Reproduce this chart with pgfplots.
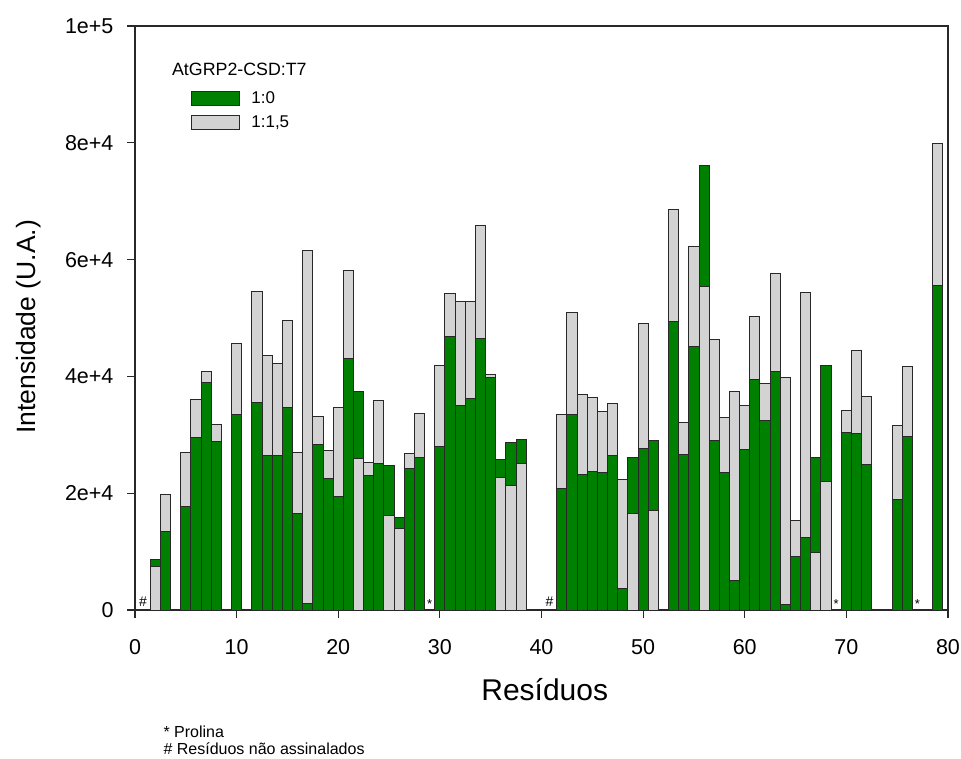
\documentclass[border=0pt]{standalone}
\usepackage{pgfplots}
\usepackage{pgfplotstable}
\pgfplotsset{compat=1.18}
\usepackage{fontspec}
\setmainfont{Liberation Sans}
\definecolor{bargreen}{RGB}{0,128,0}
\definecolor{bargray}{RGB}{211,211,211}
\definecolor{edge}{RGB}{40,40,40}

% residue, gray (1:1,5), green (1:0)
\pgfplotstableread{
x G V
2 7400 8700
3 19800 13400
5 27000 17700
6 36100 29600
7 40900 39000
8 31800 28900
10 45700 33400
12 54500 35600
13 43500 26400
14 42200 26400
15 49500 34600
16 27000 16600
17 61600 1100
18 33100 28300
19 27300 22500
20 34700 19500
21 58200 43000
22 25900 37500
23 25200 23000
24 35800 25100
25 16100 24800
26 13900 15900
27 26800 24300
28 33700 26100
30 41900 28000
31 54200 46900
32 52900 35000
33 52900 36200
34 65900 46500
35 40400 39800
36 22700 25700
37 21400 28700
38 25100 29200
42 33500 20800
43 51000 33400
44 36900 23200
45 36400 23800
46 34000 23500
47 35300 26400
48 22400 3700
49 16600 26100
50 49100 27700
51 17100 29100
53 68600 49400
54 32100 26700
55 62200 45100
56 55400 76100
57 46400 29100
58 32900 23500
59 37500 5100
60 35000 27500
61 50200 39500
62 38700 32400
63 57700 40900
64 39800 970
65 15300 9100
66 54400 12400
67 9900 26100
68 22000 41900
70 34200 30400
71 44400 30300
72 36600 24900
75 31600 19000
76 41700 29700
79 79800 55500
}\datatable

% gray bars that are shorter than green (drawn in front)
\pgfplotstableread{
x G
2 7400
22 25900
25 16100
26 13900
36 22700
37 21400
38 25100
49 16600
51 17100
56 55400
67 9900
68 22000
}\fronttable

\begin{document}
\begin{tikzpicture}
\useasboundingbox (-135pt,-148pt) rectangle (826pt,610pt);
\begin{axis}[
  at={(0pt,0pt)}, anchor=south west,
  width=813pt, height=584pt, scale only axis,
  xmin=0, xmax=80, ymin=0, ymax=100000,
  xtick={0,10,...,80},
  ytick={0,20000,40000,60000,80000,100000},
  yticklabels={0,2e+4,4e+4,6e+4,8e+4,1e+5},
  scaled y ticks=false,
  tick align=outside, tick pos=left,
  major tick length=8pt,
  axis line style={draw=edge, line width=1.2pt},
  tick style={draw=edge, line width=1.2pt},
  ticklabel style={font=\fontsize{21.5}{24}\selectfont},
  xticklabel style={yshift=-18pt},
  yticklabel style={xshift=-10pt},
  /pgf/number format/assume math mode=true,
  xlabel={Resíduos}, ylabel={Intensidade (U.A.)},
  xlabel style={font=\fontsize{30}{34}\selectfont, at={(axis description cs:0.504,-0.137)}, anchor=center},
  ylabel style={font=\fontsize{26.5}{30}\selectfont, at={(axis description cs:-0.131,0.485)}, anchor=center},
  legend style={draw=none, fill=none, at={(rel axis cs:0.0691,0.891)}, anchor=north west,
    font=\fontsize{17}{20}\selectfont, row sep=7pt, column sep=9pt, inner sep=0pt},
  legend cell align=left,
  legend image code/.code={\draw[#1] (0pt,-7pt) rectangle (48pt,7pt);},
]
\addlegendimage{fill=bargreen, draw=edge, line width=1pt}
\addlegendentry{1:0}
\addlegendimage{fill=bargray, draw=edge, line width=1pt}
\addlegendentry{1:1,5}

\addplot[ybar, bar width=1, bar shift=0pt, fill=bargray, draw=edge, line width=1pt, forget plot]
  table[x=x, y=G] {\datatable};
\addplot[ybar, bar width=1, bar shift=0pt, fill=bargreen, draw=edge, line width=1pt, forget plot]
  table[x=x, y=V] {\datatable};
\addplot[ybar, bar width=1, bar shift=0pt, fill=bargray, draw=edge, line width=1pt, forget plot]
  table[x=x, y=G] {\fronttable};

\addplot[only marks, mark=text, text mark={\fontsize{14}{14}\selectfont\#}, forget plot]
  coordinates {(0.8,1500) (40.8,1500)};
\addplot[only marks, mark=text, text mark={\fontsize{13}{13}\selectfont *}, forget plot]
  coordinates {(29,1000) (69,1000) (77,1000)};

\node[anchor=west, font=\fontsize{17.8}{20}\selectfont] at (rel axis cs:0.0413,0.926) {AtGRP2-CSD:T7};
\end{axis}
\node[anchor=west, font=\fontsize{16}{18}\selectfont] at (25pt,-122pt) {* Prolina};
\node[anchor=west, font=\fontsize{16}{18}\selectfont] at (25pt,-139pt) {\# Resíduos não assinalados};
\end{tikzpicture}
\end{document}
